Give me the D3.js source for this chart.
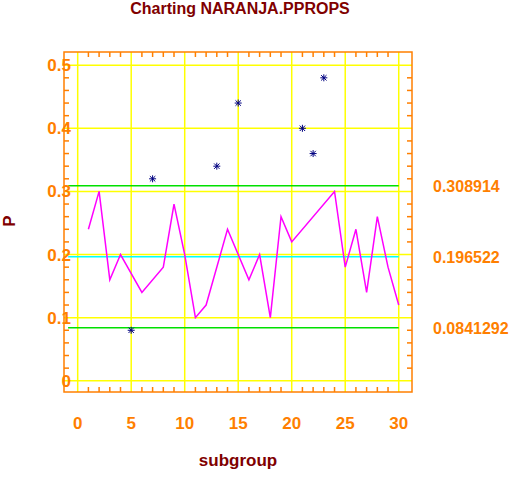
<!DOCTYPE html>
<html><head><meta charset="utf-8">
<script src="https://cdn.jsdelivr.net/npm/d3@7"></script>
<style>
body{margin:0;background:#fff}
text{font-family:"Liberation Sans",Arial,sans-serif;font-weight:bold}
</style></head>
<body><div id="chart"></div>
<script>
// in-control subgroups (line)
var lineX = [1,2,3,4,6,8,9,10,11,12,14,16,17,18,19,20,24,25,26,27,28,29,30];
var lineP = [0.24,0.30,0.16,0.20,0.14,0.18,0.28,0.20,0.10,0.12,0.24,0.16,0.20,0.10,0.26,0.22,0.30,0.18,0.24,0.14,0.26,0.18,0.12];
// flagged subgroups (asterisks)
var starX = [5,7,13,15,21,22,23];
var starP = [0.08,0.32,0.34,0.44,0.40,0.36,0.48];
var limits = [0.308914,0.196522,0.0841292];
var limitLabels = ["0.308914","0.196522","0.0841292"];
var xTicks = [0,5,10,15,20,25,30];
var yTicks = [0,0.1,0.2,0.3,0.4,0.5];

var W = 521, H = 480;
var orange = "#ff7f00", dark = "#800000";
var pLeft = 64, pRight = 412, pTop = 52, pBottom = 392;

var svg = d3.select("#chart").append("svg").attr("width", W).attr("height", H);

var x = d3.scaleLinear().domain([-1.28, 31.24]).range([pLeft, pRight]);
var y = d3.scaleLinear().domain([-0.0178, 0.5209]).range([pBottom, pTop]);

// grid
svg.append("g").selectAll("line").data(xTicks).enter().append("line")
  .attr("x1", d => x(d)).attr("x2", d => x(d)).attr("y1", pTop).attr("y2", pBottom)
  .attr("stroke", "#ffff00").attr("stroke-width", 1.5);
svg.append("g").selectAll("line").data(yTicks).enter().append("line")
  .attr("x1", pLeft).attr("x2", pRight).attr("y1", d => y(d)).attr("y2", d => y(d))
  .attr("stroke", "#ffff00").attr("stroke-width", 1.5);

// control limits
svg.append("g").selectAll("line").data(limits).enter().append("line")
  .attr("x1", x(-0.9)).attr("x2", x(30)).attr("y1", d => y(d)).attr("y2", d => y(d))
  .attr("stroke", (d, i) => i == 1 ? "#00ffff" : "#00e000").attr("stroke-width", 1.5);

svg.append("g").selectAll("text").data(limits).enter().append("text")
  .attr("x", 433).attr("y", d => y(d) + 6).attr("fill", orange)
  .attr("font-size", 16).text((d, i) => limitLabels[i]);

// frame with inward ticks
var ax = svg.append("g").attr("stroke", orange).attr("stroke-width", 1.5);
ax.append("rect").attr("x", pLeft).attr("y", pTop).attr("width", pRight - pLeft).attr("height", pBottom - pTop).attr("fill", "none");
d3.range(0, 31).forEach(function(v) {
  if (v % 5 == 0) return;
  ax.append("line").attr("x1", x(v)).attr("x2", x(v)).attr("y1", pBottom).attr("y2", pBottom - 5);
  ax.append("line").attr("x1", x(v)).attr("x2", x(v)).attr("y1", pTop).attr("y2", pTop + 5);
});
d3.range(0, 26).forEach(function(i) {
  if (i % 5 == 0) return;
  var v = i * 0.02;
  ax.append("line").attr("x1", pLeft).attr("x2", pLeft + 5).attr("y1", y(v)).attr("y2", y(v));
  ax.append("line").attr("x1", pRight).attr("x2", pRight - 5).attr("y1", y(v)).attr("y2", y(v));
});

svg.append("g").selectAll("text").data(xTicks).enter().append("text")
  .attr("x", d => x(d)).attr("y", 429).attr("text-anchor", "middle")
  .attr("fill", orange).attr("font-size", 17).text(d => d);
svg.append("g").selectAll("text").data(yTicks).enter().append("text")
  .attr("x", 71).attr("y", d => y(d) + 6).attr("text-anchor", "end")
  .attr("fill", orange).attr("font-size", 17).text(d => d);

// data line
var line = d3.line().x(d => x(d[0])).y(d => y(d[1]));
svg.append("path").datum(lineX.map((v, i) => [v, lineP[i]]))
  .attr("d", line).attr("fill", "none").attr("stroke", "#ff00ff").attr("stroke-width", 1.5);

// asterisks
var stars = svg.append("g").attr("stroke", "#000080").attr("stroke-width", 1);
starX.forEach(function(v, i) {
  var cx = x(v), cy = y(starP[i]), r = 3.5;
  stars.append("line").attr("x1", cx - r).attr("x2", cx + r).attr("y1", cy).attr("y2", cy);
  stars.append("line").attr("x1", cx).attr("x2", cx).attr("y1", cy - r).attr("y2", cy + r);
  stars.append("line").attr("x1", cx - 2.7).attr("x2", cx + 2.7).attr("y1", cy - 2.7).attr("y2", cy + 2.7);
  stars.append("line").attr("x1", cx - 2.7).attr("x2", cx + 2.7).attr("y1", cy + 2.7).attr("y2", cy - 2.7);
});

svg.append("text").attr("x", 240).attr("y", 14).attr("text-anchor", "middle")
  .attr("fill", dark).attr("font-size", 16).text("Charting NARANJA.PPROPS");
svg.append("text").attr("x", 238).attr("y", 466).attr("text-anchor", "middle")
  .attr("fill", dark).attr("font-size", 17).text("subgroup");
svg.append("text").attr("transform", "translate(15,221) rotate(-90)").attr("text-anchor", "middle")
  .attr("fill", dark).attr("font-size", 17).text("P");
</script></body></html>
